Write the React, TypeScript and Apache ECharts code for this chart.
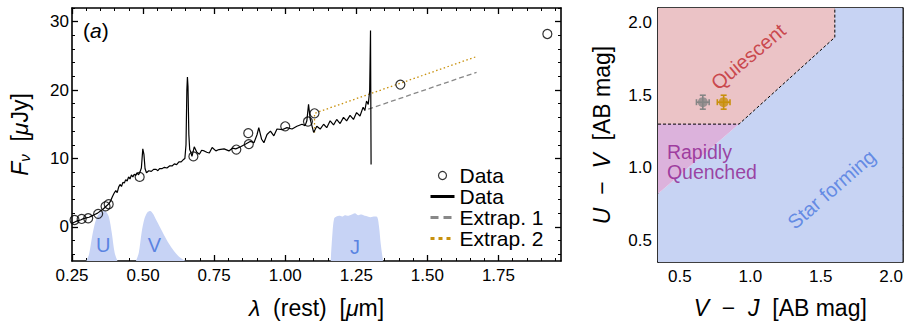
import React, { useEffect, useRef } from "react";
import * as echarts from "echarts";

const FONT = "'Liberation Sans', Arial, Helvetica, sans-serif";

// ---------- Panel (a): spectrum ----------
const specLambda = [
  0.25, 0.26, 0.27, 0.28, 0.29, 0.3, 0.31, 0.32, 0.33, 0.34, 0.35, 0.36, 0.37, 0.38, 0.386, 0.392, 0.398,
  0.404, 0.409, 0.414, 0.419, 0.424, 0.429, 0.434, 0.439, 0.444, 0.449, 0.454, 0.459, 0.464, 0.469, 0.474,
  0.479, 0.484, 0.489, 0.494, 0.499, 0.503, 0.507, 0.512, 0.52, 0.529, 0.537, 0.546, 0.552, 0.558, 0.566,
  0.575, 0.584, 0.593, 0.602, 0.61, 0.618, 0.626, 0.634, 0.641, 0.647, 0.651, 0.654, 0.656, 0.658, 0.661,
  0.664, 0.668, 0.672, 0.68, 0.689, 0.698, 0.706, 0.715, 0.724, 0.733, 0.743, 0.756, 0.767, 0.785, 0.802,
  0.814, 0.826, 0.843, 0.861, 0.878, 0.89, 0.901, 0.907, 0.917, 0.925, 0.936, 0.948, 0.96, 0.971, 0.989,
  1.006, 1.024, 1.041, 1.059, 1.07, 1.076, 1.082, 1.088, 1.1, 1.111, 1.123, 1.135, 1.146, 1.158, 1.17,
  1.181, 1.193, 1.205, 1.216, 1.228, 1.24, 1.251, 1.263, 1.274, 1.28, 1.286, 1.292, 1.297, 1.3, 1.302,
];
const specFlux = [
  0.5, 0.7, 0.9, 1.0, 1.2, 1.3, 1.4, 1.6, 1.8, 2.0, 2.3, 2.6, 3.0, 3.4, 3.8, 4.4, 4.9,
  5.3, 5.0, 5.8, 6.2, 5.9, 6.5, 6.4, 6.9, 6.7, 7.3, 7.0, 7.6, 7.3, 7.7, 7.5,
  7.9, 7.6, 8.0, 8.6, 11.4, 10.6, 8.5, 7.9, 8.2, 8.1, 8.4, 8.4, 8.2, 8.5, 8.5,
  8.7, 8.6, 8.9, 8.9, 9.2, 9.1, 9.5, 9.5, 9.8, 10.0, 12.0, 20.0, 21.9, 20.5, 13.5,
  11.3, 10.9, 10.3, 11.7, 10.9, 10.6, 11.2, 11.1, 10.9, 10.8, 11.6, 11.1, 11.3, 11.4, 11.1,
  11.5, 11.4, 11.7, 12.1, 12.5, 12.3, 13.5, 14.5, 12.8, 12.3, 13.5, 14.0, 13.3, 14.3, 14.2,
  14.5, 14.3, 14.7, 15.0, 14.8, 15.5, 17.9, 15.7, 13.8, 14.7, 14.3, 15.0, 14.5, 15.5, 14.9,
  15.7, 15.1, 16.0, 15.5, 16.3, 15.7, 16.7, 16.2, 17.5, 17.0, 18.4, 17.9, 19.9, 28.7, 9.1,
];
const photLambda = [0.259, 0.284, 0.307, 0.342, 0.368, 0.379, 0.488, 0.677, 0.828, 0.87, 0.872, 1.0, 1.08, 1.103, 1.405, 1.922];
const photFlux = [1.0, 1.15, 1.25, 1.9, 3.0, 3.3, 7.3, 10.3, 11.3, 13.7, 12.1, 14.7, 15.4, 16.6, 20.8, 28.2];
const extrap1Lambda = [1.292, 1.673];
const extrap1Flux = [17.2, 22.6];
const extrap2Lambda = [1.103, 1.103, 1.673];
const extrap2Flux = [13.8, 16.6, 24.9];

const uLambda = [0.3, 0.31, 0.32, 0.33, 0.34, 0.35, 0.36, 0.37, 0.38, 0.39, 0.4, 0.41];
const uCurve = [-5, -4.0, -1.6, 0.4, 1.6, 2.1, 2.3, 2.2, 1.4, -0.9, -3.8, -5];
const vLambda = [0.475, 0.485, 0.495, 0.505, 0.515, 0.525, 0.535, 0.545, 0.56, 0.575, 0.59, 0.61, 0.63, 0.65];
const vCurve = [-5, -3.8, -0.8, 1.2, 2.1, 2.3, 1.9, 1.1, -0.1, -1.3, -2.4, -3.6, -4.5, -5];
const jLambda = [1.16, 1.166, 1.172, 1.18, 1.19, 1.2, 1.21, 1.22, 1.234, 1.245, 1.257, 1.268, 1.28, 1.29, 1.3, 1.315, 1.324, 1.33, 1.336, 1.344];
const jCurve = [-5, -1.0, 1.2, 1.5, 1.6, 1.5, 1.7, 1.6, 1.8, 2.0, 1.7, 1.8, 1.6, 1.5, 1.4, 1.5, 1.4, 0.0, -2.5, -5];
const filterNames = ["U", "V", "J"];
const filterLabelLambda = [0.36, 0.54, 1.245];
const filterLabelFlux = [-2.6, -2.6, -2.9];

const aXTicks = [0.25, 0.5, 0.75, 1.0, 1.25, 1.5, 1.75];
const aYTicks = [0, 10, 20, 30];

// ---------- Panel (b): UVJ ----------
const quiescentPoly = [[0.345, 1.3], [0.92, 1.3], [1.6, 1.898], [1.6, 2.1], [0.345, 2.1]];
const quenchedPoly = [[0.345, 1.3], [0.92, 1.3], [0.345, 0.82]];
const starFormingPoly = [[0.345, 0.35], [2.08, 0.35], [2.08, 2.1], [1.6, 2.1], [1.6, 1.898], [0.92, 1.3], [0.345, 0.82]];
const boundaryVJ = [0.345, 0.92, 1.6, 1.6];
const boundaryUV = [1.3, 1.3, 1.898, 2.1];
const pointVJ = [0.663, 0.811];
const pointUV = [1.451, 1.451];
const pointErrVJ = [0.045, 0.045];
const pointErrUV = [0.048, 0.048];
const pointColors = ["#858585", "#c8900c"];
const bTicks = [0.5, 1.0, 1.5, 2.0];

function minorTicks(min: number, max: number, step: number, majors: number[]) {
  const out: number[] = [];
  for (let k = Math.ceil(min / step - 1e-9); k * step <= max + 1e-9; k++) {
    const v = +(k * step).toFixed(6);
    if (!majors.some((m) => Math.abs(m - v) < 1e-9)) out.push(v);
  }
  return out;
}

const nameStyle = {
  fontSize: 23,
  fontFamily: FONT,
  color: "#000",
  rich: {
    i: { fontStyle: "italic", fontSize: 23, fontFamily: FONT, color: "#000" },
    s: { fontStyle: "italic", fontSize: 15, fontFamily: FONT, color: "#000", padding: [10, 0, 0, 0] },
  },
};

function axisSet(
  dim: "x" | "y",
  grid: number,
  min: number,
  max: number,
  majors: number[],
  minorStep: number,
  fmt: (v: number) => string,
  name: string,
  nameGap: number,
  labelMargin: number
) {
  const minors = minorTicks(min, max, minorStep, majors);
  const pos = dim === "x" ? ["bottom", "top"] : ["left", "right"];
  const base: any = { type: "value", gridIndex: grid, min, max, splitLine: { show: false }, scale: true };
  const line = { show: true, onZero: false, lineStyle: { color: "#000", width: 1.6 } };
  const noLine = { show: false, onZero: false };
  const majorTick = { show: true, inside: true, length: 6, customValues: majors, lineStyle: { color: "#000", width: 1.3 } };
  const minorTick = { show: true, inside: true, length: 3, customValues: minors, lineStyle: { color: "#000", width: 1 } };
  return [
    {
      ...base,
      position: pos[0],
      axisLine: line,
      axisTick: majorTick,
      axisLabel: { show: true, customValues: majors, formatter: fmt, color: "#000", fontSize: 17, fontFamily: FONT, margin: labelMargin },
      name,
      nameLocation: "middle",
      nameGap,
      nameRotate: dim === "y" ? 90 : 0,
      nameTextStyle: nameStyle,
    },
    { ...base, position: pos[0], axisLine: noLine, axisTick: minorTick, axisLabel: { show: false } },
    { ...base, position: pos[1], axisLine: line, axisTick: majorTick, axisLabel: { show: false } },
    { ...base, position: pos[1], axisLine: noLine, axisTick: minorTick, axisLabel: { show: false } },
  ];
}

export default function App() {
  const ref = useRef<HTMLDivElement>(null);
  useEffect(() => {
    if (!ref.current) return;
    const chart = echarts.init(ref.current, undefined, { renderer: "svg" });
    const zip = (a: number[], b: number[]) => a.map((v, i) => [v, b[i]]);
    const filterSeries = [
      [uLambda, uCurve],
      [vLambda, vCurve],
      [jLambda, jCurve],
    ].map(([l, c], i) => ({
      type: "line",
      name: "filter" + filterNames[i],
      xAxisIndex: 0,
      yAxisIndex: 0,
      data: zip(l, c),
      symbol: "none",
      smooth: 0.3,
      lineStyle: { width: 0 },
      areaStyle: { origin: "start", color: "#c7d3f5", opacity: 1 },
      z: 1,
      silent: true,
    }));
    const regionPolys = [starFormingPoly, quenchedPoly, quiescentPoly];
    const regionColors = ["#c7d3f3", "#dcb2dc", "#ebc3c6"];
    const hiddenSymbol = { color: "rgba(0,0,0,0)", borderColor: "rgba(0,0,0,0)", borderWidth: 0, opacity: 0 };

    const option: any = {
      animation: false,
      backgroundColor: "#fff",
      grid: [
        { left: 72, top: 8, width: 489, height: 253 },
        { left: 658, top: 8, width: 245, height: 254 },
      ],
      xAxis: [
        ...axisSet("x", 0, 0.25, 1.97, aXTicks, 0.05, (v) => v.toFixed(2), "{i|λ}  (rest)  [{i|μ}m]", 35, 6),
        ...axisSet("x", 1, 0.345, 2.08, bTicks, 0.1, (v) => v.toFixed(1), "{i|V}  −  {i|J}  [AB mag]", 34, 6),
      ],
      yAxis: [
        ...axisSet("y", 0, -5, 32, aYTicks, 2, (v) => String(v), "{i|F}{s|ν}  [{i|μ}Jy]", 40, 3),
        ...axisSet("y", 1, 0.35, 2.1, bTicks, 0.1, (v) => v.toFixed(1), "{i|U}  −  {i|V}  [AB mag]", 45, 6),
      ],
      legend: {
        orient: "vertical",
        left: 424,
        top: 160,
        itemWidth: 24,
        itemHeight: 8,
        itemGap: 0,
        selectedMode: false,
        formatter: (n: string) => n.trim(),
        textStyle: { fontSize: 21, lineHeight: 21, fontFamily: FONT, color: "#000" },
        data: [
          { name: "Data", icon: "circle", itemStyle: { color: "#fff", borderColor: "#000", borderWidth: 1.2 } },
          { name: "Data ", itemStyle: hiddenSymbol, lineStyle: { width: 3, color: "#000" } },
          { name: "Extrap. 1", itemStyle: hiddenSymbol, lineStyle: { width: 3, color: "#888", type: [8, 5] } },
          { name: "Extrap. 2", itemStyle: hiddenSymbol, lineStyle: { width: 3, color: "#c8900c", type: [4, 4] } },
        ],
      },
      graphic: [
        {
          type: "text",
          left: 83,
          top: 20,
          style: { text: "({i|a})", fontSize: 21, fontFamily: FONT, fill: "#000", rich: { i: { fontStyle: "italic", fontSize: 21, fontFamily: FONT } } },
        },
        {
          type: "text",
          left: 670,
          top: 21,
          style: { text: "({i|b})", fontSize: 21, fontFamily: FONT, fill: "#000", rich: { i: { fontStyle: "italic", fontSize: 21, fontFamily: FONT } } },
        },
      ],
      series: [
        ...filterSeries,
        {
          type: "scatter",
          name: "filterLabels",
          xAxisIndex: 0,
          yAxisIndex: 0,
          symbolSize: 0,
          silent: true,
          z: 2,
          data: filterNames.map((n, i) => ({ name: n, value: [filterLabelLambda[i], filterLabelFlux[i]] })),
          label: { show: true, position: "inside", formatter: (p: any) => p.name, color: "#3d6fdc", fontSize: 20, fontFamily: FONT },
        },
        {
          type: "line",
          name: "Extrap. 1",
          xAxisIndex: 0,
          yAxisIndex: 0,
          data: zip(extrap1Lambda, extrap1Flux),
          symbol: "none",
          itemStyle: { color: "#888" },
          lineStyle: { color: "#888", width: 1.3, type: [5, 3] },
          z: 3,
        },
        {
          type: "line",
          name: "Extrap. 2",
          xAxisIndex: 0,
          yAxisIndex: 0,
          data: zip(extrap2Lambda, extrap2Flux),
          symbol: "none",
          itemStyle: { color: "#c8900c" },
          lineStyle: { color: "#c8900c", width: 1.3, type: [1.5, 2.5] },
          z: 3,
        },
        {
          type: "line",
          name: "Data ",
          xAxisIndex: 0,
          yAxisIndex: 0,
          data: zip(specLambda, specFlux),
          symbol: "none",
          itemStyle: { color: "#000" },
          lineStyle: { color: "#000", width: 1.2 },
          z: 4,
        },
        {
          type: "scatter",
          name: "Data",
          xAxisIndex: 0,
          yAxisIndex: 0,
          data: zip(photLambda, photFlux),
          symbol: "circle",
          symbolSize: 9,
          itemStyle: { color: "rgba(255,255,255,0)", borderColor: "#000", borderWidth: 1.2 },
          z: 5,
        },
        // Panel (b)
        {
          type: "custom",
          name: "regions",
          xAxisIndex: 4,
          yAxisIndex: 4,
          silent: true,
          z: 1,
          data: regionPolys.map((p) => p[0]),
          renderItem: (params: any, api: any) => {
            const poly = regionPolys[params.dataIndex];
            return {
              type: "polygon",
              shape: { points: poly.map((p) => api.coord(p)) },
              style: { fill: regionColors[params.dataIndex] },
            };
          },
        },
        {
          type: "line",
          name: "boundary",
          xAxisIndex: 4,
          yAxisIndex: 4,
          data: zip(boundaryVJ, boundaryUV),
          symbol: "none",
          silent: true,
          lineStyle: { color: "#000", width: 1, type: [3, 2] },
          z: 2,
        },
        {
          type: "custom",
          name: "errorbars",
          xAxisIndex: 4,
          yAxisIndex: 4,
          silent: true,
          z: 3,
          data: pointVJ.map((v, i) => [v, pointUV[i], pointErrVJ[i], pointErrUV[i]]),
          renderItem: (params: any, api: any) => {
            const x = api.value(0), y = api.value(1), ex = api.value(2), ey = api.value(3);
            const l = api.coord([x - ex, y]);
            const r = api.coord([x + ex, y]);
            const b = api.coord([x, y - ey]);
            const t = api.coord([x, y + ey]);
            const c = 3;
            const style = { stroke: pointColors[params.dataIndex], lineWidth: 1.6 };
            const ln = (x1: number, y1: number, x2: number, y2: number) => ({ type: "line", shape: { x1, y1, x2, y2 }, style });
            return {
              type: "group",
              children: [
                ln(l[0], l[1], r[0], r[1]),
                ln(b[0], b[1], t[0], t[1]),
                ln(l[0], l[1] - c, l[0], l[1] + c),
                ln(r[0], r[1] - c, r[0], r[1] + c),
                ln(b[0] - c, b[1], b[0] + c, b[1]),
                ln(t[0] - c, t[1], t[0] + c, t[1]),
              ],
            };
          },
        },
        {
          type: "scatter",
          name: "points",
          xAxisIndex: 4,
          yAxisIndex: 4,
          symbolSize: 10,
          z: 4,
          data: pointVJ.map((v, i) => ({ value: [v, pointUV[i]], itemStyle: { color: pointColors[i] } })),
        },
        {
          type: "scatter",
          name: "regionLabels",
          xAxisIndex: 4,
          yAxisIndex: 4,
          symbolSize: 0,
          silent: true,
          z: 5,
          data: [
            { value: [0.985, 1.765], label: { formatter: "Quiescent", rotate: 40, color: "#c1272d", align: "center" } },
            { value: [0.408, 1.04], label: { formatter: "Rapidly\nQuenched", rotate: 0, color: "#8e1b8e", align: "left", lineHeight: 20, fontSize: 19.5 } },
            { value: [1.576, 0.851], label: { formatter: "Star forming", rotate: 41, color: "#4a78e0", align: "center" } },
          ],
          label: { show: true, position: "inside", verticalAlign: "middle", fontSize: 20, fontFamily: FONT },
        },
      ],
    };
    chart.setOption(option);
    return () => chart.dispose();
  }, []);
  return <div ref={ref} style={{ position: "fixed", left: 0, top: 0, width: 906, height: 325, background: "#fff" }} />;
}
